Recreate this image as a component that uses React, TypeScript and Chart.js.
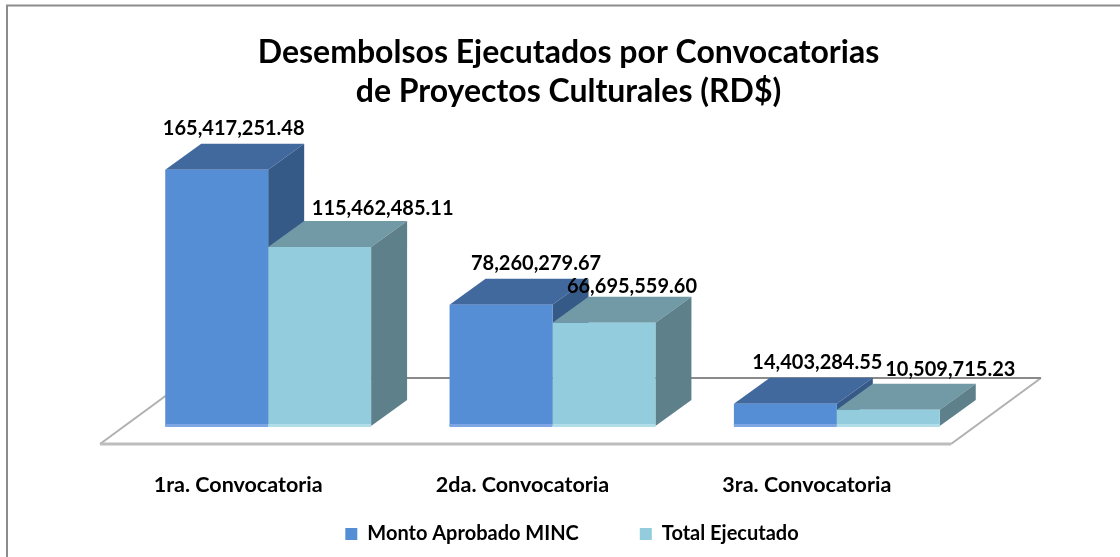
import React, { useEffect, useRef } from "react";
import { Chart, registerables } from "chart.js";

Chart.register(...registerables);

const categories = ["1ra. Convocatoria", "2da. Convocatoria", "3ra. Convocatoria"];
const montoAprobado = [165417251.48, 78260279.67, 14403284.55];
const totalEjecutado = [115462485.11, 66695559.6, 10509715.23];
const titleLines = ["Desembolsos Ejecutados por Convocatorias", "de Proyectos Culturales (RD$)"];

const FONT = "Lato";
const DEPTH = { x: 36, y: -26 };
const FACES = [
  { top: "#41699E", side: "#355A88", strip: "#7FA6E4" },
  { top: "#719AA6", side: "#5E808B", strip: "#B0DDE8" },
];
const LABEL_NUDGE = [
  [{ x: 17, y: -41 }, { x: 35, y: -41 }, { x: 32, y: -41 }],
  [{ x: 63, y: -39 }, { x: 28, y: -36 }, { x: 62, y: -40 }],
];

const fmt = (v: number) =>
  v.toLocaleString("en-US", { minimumFractionDigits: 2, maximumFractionDigits: 2 });

const poly = (ctx: CanvasRenderingContext2D, pts: number[][], fill: string) => {
  ctx.beginPath();
  pts.forEach(([x, y], i) => (i ? ctx.lineTo(x, y) : ctx.moveTo(x, y)));
  ctx.closePath();
  ctx.fillStyle = fill;
  ctx.fill();
};

const scene = {
  id: "scene3d",
  afterLayout(chart: any) {
    chart.titleBlock.left += 32;
    chart.legend.left += 39;
    chart.scales.x.bottom = chart.height;
  },
  beforeDatasetsDraw(chart: any) {
    const { ctx, chartArea: a } = chart;
    ctx.save();
    // frame
    ctx.strokeStyle = "#8C8C8C";
    ctx.lineWidth = 2;
    ctx.beginPath();
    ctx.moveTo(7, chart.height);
    ctx.lineTo(7, 5.5);
    ctx.lineTo(chart.width, 5.5);
    ctx.stroke();
    // floor
    const fl = a.left - 26, fr = a.right - 28, fy = a.bottom + 18;
    const bl = fl + 90, br = fr + 90, by = a.bottom - 48;
    ctx.lineWidth = 2;
    ctx.strokeStyle = "#B0B0B0";
    ctx.beginPath();
    ctx.moveTo(fl, fy);
    ctx.lineTo(bl, by);
    ctx.moveTo(br, by);
    ctx.lineTo(fr, fy);
    ctx.stroke();
    ctx.strokeStyle = "#8A8A8A";
    ctx.beginPath();
    ctx.moveTo(bl, by);
    ctx.lineTo(br, by);
    ctx.stroke();
    ctx.strokeStyle = "#BDBDBD";
    ctx.lineWidth = 3;
    ctx.beginPath();
    ctx.moveTo(fl, fy);
    ctx.lineTo(fr, fy);
    ctx.stroke();
    // depth faces
    [0, 1].forEach((d) => {
      chart.getDatasetMeta(d).data.forEach((bar: any) => {
        const p = bar.getProps(["x", "y", "base", "width"], true);
        const l = p.x - p.width / 2, r = p.x + p.width / 2;
        poly(ctx, [[l, p.y], [r, p.y], [r + DEPTH.x, p.y + DEPTH.y], [l + DEPTH.x, p.y + DEPTH.y]], FACES[d].top);
        poly(ctx, [[r, p.y], [r + DEPTH.x, p.y + DEPTH.y], [r + DEPTH.x, p.base + DEPTH.y], [r, p.base]], FACES[d].side);
      });
    });
    ctx.restore();
  },
  afterDatasetsDraw(chart: any) {
    const { ctx } = chart;
    ctx.save();
    [0, 1].forEach((d) => {
      chart.getDatasetMeta(d).data.forEach((bar: any, i: number) => {
        const p = bar.getProps(["x", "y", "base", "width"], true);
        ctx.fillStyle = FACES[d].strip;
        ctx.fillRect(p.x - p.width / 2, p.base - 2, p.width, 3);
        const n = LABEL_NUDGE[d][i];
        const value = chart.data.datasets[d].data[i];
        ctx.font = `bold 20px ${FONT}`;
        ctx.fillStyle = "#000";
        ctx.textAlign = "center";
        ctx.textBaseline = "middle";
        ctx.fillText(fmt(value), p.x + n.x, p.y + n.y);
      });
    });
    ctx.restore();
  },
};

export default function App() {
  const ref = useRef<HTMLCanvasElement>(null);
  useEffect(() => {
    document.body.style.margin = "0";
    const chart = new Chart(ref.current!, {
      type: "bar",
      plugins: [scene],
      data: {
        labels: categories,
        datasets: [
          { label: "Monto Aprobado MINC", data: montoAprobado, backgroundColor: "#558ED5" },
          { label: "Total Ejecutado", data: totalEjecutado, backgroundColor: "#93CDDD" },
        ],
      },
      options: {
        animation: false,
        responsive: false,
        layout: { padding: { left: 126, right: 141, top: 0, bottom: 3 } },
        datasets: { bar: { categoryPercentage: 0.724, barPercentage: 1 } },
        scales: {
          x: {
            grid: { display: false },
            border: { display: false },
            afterFit: (s: any) => { s.height = 37; },
            ticks: { color: "#000", padding: 38, labelOffset: -30, maxRotation: 0, font: { family: FONT, size: 21.5, weight: "bold" } },
          },
          y: { display: false, min: 0, max: 200000000 },
        },
        plugins: {
          tooltip: { enabled: false },
          title: {
            display: true,
            text: titleLines,
            color: "#000",
            font: { family: FONT, size: 32, weight: "bold", lineHeight: 1.22 },
            padding: { top: 33, bottom: 5 },
          },
          legend: {
            position: "bottom",
            labels: { color: "#000", boxWidth: 12, boxHeight: 12, padding: 61, font: { family: FONT, size: 20, weight: "bold" } },
          },
        },
      },
    } as any);
    return () => chart.destroy();
  }, []);
  return <canvas ref={ref} width={1120} height={557} style={{ display: "block" }} />;
}
